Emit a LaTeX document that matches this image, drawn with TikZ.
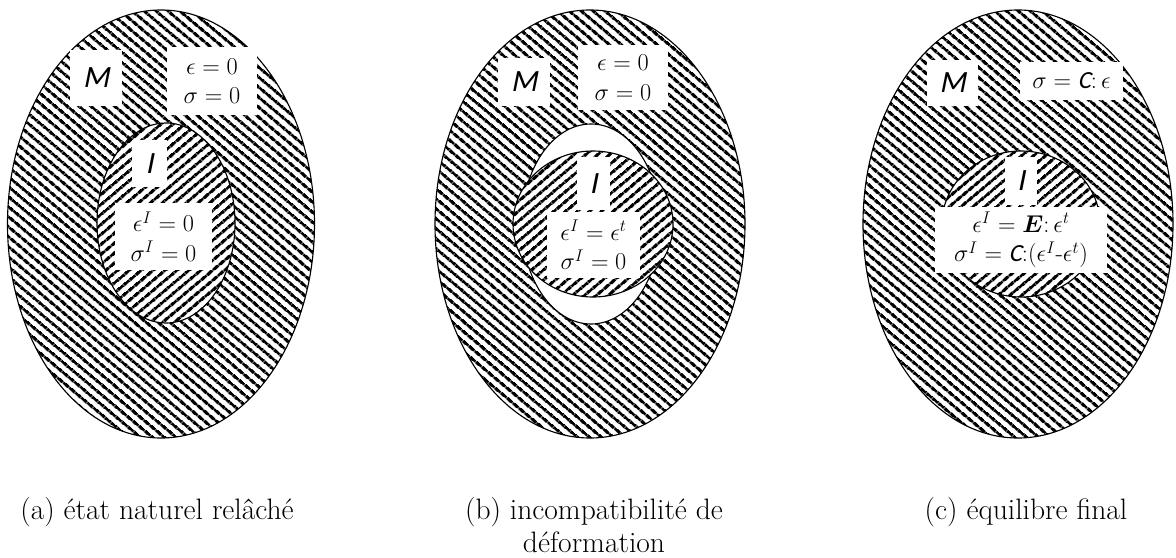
\documentclass[tikz,border=0pt]{standalone}
\usepackage{amsmath}
\usepackage{bm}
\usepackage{fontspec}
\usetikzlibrary{patterns.meta}
\newfontfamily\labelfont[AutoFakeSlant=0.2]{Carlito}
\newcommand{\Cstiff}{\text{\labelfont\itshape C}}

\begin{document}
\begin{tikzpicture}[
    x=0.025cm, y=-0.025cm,
    matrixhatch/.style={pattern={Lines[angle=-40,distance=5.4pt,line width=2.3pt]}},
    inclhatch/.style={preaction={fill=white},
                      pattern={Lines[angle=40,distance=5.4pt,line width=2.3pt]}},
    outline/.style={draw=black, line width=0.8pt},
    tag/.style={fill=white, inner sep=0pt,
                font=\labelfont\itshape\fontsize{22}{24}\selectfont},
    eqbox/.style={fill=white, inner sep=0pt, align=center,
                  font=\fontsize{17.5}{21}\selectfont},
    caption/.style={align=center, font=\fontsize{21}{23}\selectfont}
]
\useasboundingbox (0,0) rectangle (1176,558);

% (a) etat naturel
\draw[outline, matrixhatch] (161,224) ellipse [x radius=153.5, y radius=214];
\draw[outline, inclhatch] (166,223) ellipse [x radius=69, y radius=100];
\node[tag, minimum width=1.3cm, minimum height=1.4cm] (mA) at (96,78) {M};
\node[eqbox, minimum width=2.25cm, minimum height=1.675cm] (eqmA) at (212,81)
    {$\epsilon = 0$\\$\sigma = 0$};
\node[tag, minimum width=0.875cm, minimum height=1.175cm] (iA) at (149.5,163.5) {I};
\node[eqbox, minimum width=2.425cm, minimum height=1.675cm] (eqiA) at (163.5,236.5)
    {$\epsilon^I = 0$\\$\sigma^I = 0$};

% (b) incompatibilite
\draw[outline, matrixhatch] (590,224) ellipse [x radius=155, y radius=214];
\draw[outline, fill=white] (591,224) ellipse [x radius=69, y radius=100];
\draw[outline, inclhatch] (593,224) ellipse [x radius=80, y radius=73];
\node[tag, minimum width=1.3cm, minimum height=1.2cm] (mB) at (524,82) {M};
\node[eqbox, minimum width=2.25cm, minimum height=1.625cm] (eqmB) at (623,77.5)
    {$\epsilon = 0$\\$\sigma = 0$};
\node[tag, minimum width=0.825cm, minimum height=1.325cm] (iB) at (593.5,183.5) {I};
\node[eqbox, minimum width=2.325cm, minimum height=1.65cm] (eqiB) at (593.5,245)
    {$\epsilon^I = \epsilon^t$\\$\sigma^I = 0$};

% (c) equilibre
\draw[outline, matrixhatch] (1018,224) ellipse [x radius=155, y radius=214];
\draw[outline, inclhatch] (1021,224) ellipse [x radius=79, y radius=73];
\node[tag, minimum width=1.275cm, minimum height=1.15cm] (mC) at (952.5,83) {M};
\node[eqbox, minimum width=2.575cm, minimum height=0.95cm] (eqmC) at (1071.5,81)
    {$\sigma = \Cstiff{:}\,\epsilon$};
\node[tag, minimum width=0.8cm, minimum height=1.2cm] (iC) at (1021,181) {I};
\node[eqbox, minimum width=4.3cm, minimum height=1.65cm] (eqiC) at (1021,240)
    {$\epsilon^I = \bm{E}{:}\,\epsilon^t$\\$\sigma^I = \Cstiff{:}(\epsilon^I\text{-}\epsilon^t)$};

% legendes
\node[caption] (capA) at (157,512) {(a) état naturel relâché};
\node[caption] (capB) at (594,525) {(b) incompatibilité de\\déformation};
\node[caption] (capC) at (1026,512) {(c) équilibre final};
\end{tikzpicture}
\end{document}
